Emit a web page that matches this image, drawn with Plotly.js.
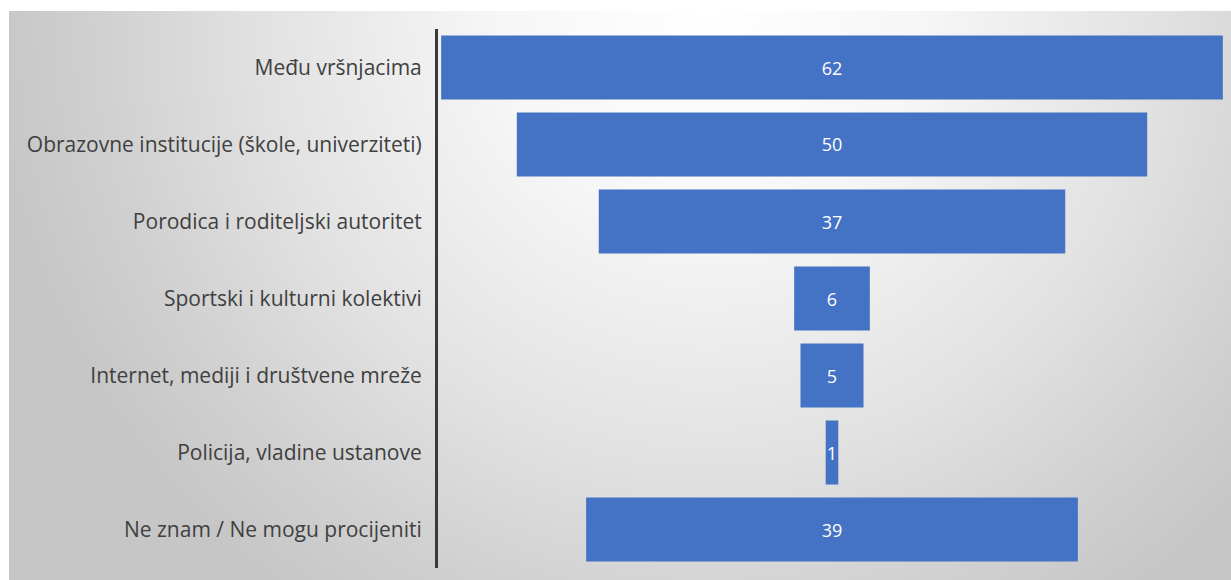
<!DOCTYPE html>
<html>
<head>
<meta charset="utf-8">
<script src="https://cdn.plot.ly/plotly-3.0.1.min.js"></script>
<style>
  html, body { margin: 0; padding: 0; background: #ffffff; }
  #wrap { position: relative; width: 1231px; height: 580px; overflow: hidden; }
  #bg { position: absolute; left: 9px; top: 11px; width: 1222px; height: 569px;
        background: radial-gradient(ellipse 720px 720px at 700px 0px, #ffffff 0%, #f6f6f6 30%, #e2e2e2 62%, #d0d0d0 85%, #c6c6c6 100%); }
  #chart { position: absolute; left: 0; top: 0; width: 1231px; height: 580px; }
</style>
</head>
<body>
<div id="wrap">
  <div id="bg"></div>
  <div id="chart"></div>
</div>
<script>
const categories = [
  "Među vršnjacima",
  "Obrazovne institucije (škole, univerziteti)",
  "Porodica i roditeljski autoritet",
  "Sportski i kulturni kolektivi",
  "Internet, mediji i društvene mreže",
  "Policija, vladine ustanove",
  "Ne znam / Ne mogu procijeniti"
];
const values = [62, 50, 37, 6, 5, 1, 39];

const trace = {
  type: 'funnel',
  orientation: 'h',
  y: categories,
  x: values,
  textinfo: 'value',
  textposition: 'inside',
  insidetextanchor: 'middle',
  textfont: { color: '#ffffff', size: 18, family: 'Open Sans, sans-serif' },
  marker: { color: '#4472C4', line: { width: 0 } },
  connector: { visible: false },
  hoverinfo: 'skip'
};

const layout = {
  width: 1231,
  height: 580,
  margin: { l: 438, r: 5, t: 29, b: 12 },
  paper_bgcolor: 'rgba(0,0,0,0)',
  plot_bgcolor: 'rgba(0,0,0,0)',
  funnelgap: 0.17,
  showlegend: false,
  uniformtext: { minsize: 18, mode: 'show' },
  xaxis: { range: [-31.25, 31.25], visible: false, fixedrange: true },
  yaxis: {
    type: 'category',
    categoryorder: 'array',
    categoryarray: categories,
    autorange: 'reversed',
    showline: true,
    linecolor: '#3a3a3a',
    linewidth: 3,
    showgrid: false,
    zeroline: false,
    ticks: '',
    ticklabelstandoff: 9,
    tickfont: { color: '#404040', size: 21, family: 'Open Sans, sans-serif' }
  }
};

Plotly.newPlot('chart', [trace], layout, { displayModeBar: false, staticPlot: true });
</script>
</body>
</html>
